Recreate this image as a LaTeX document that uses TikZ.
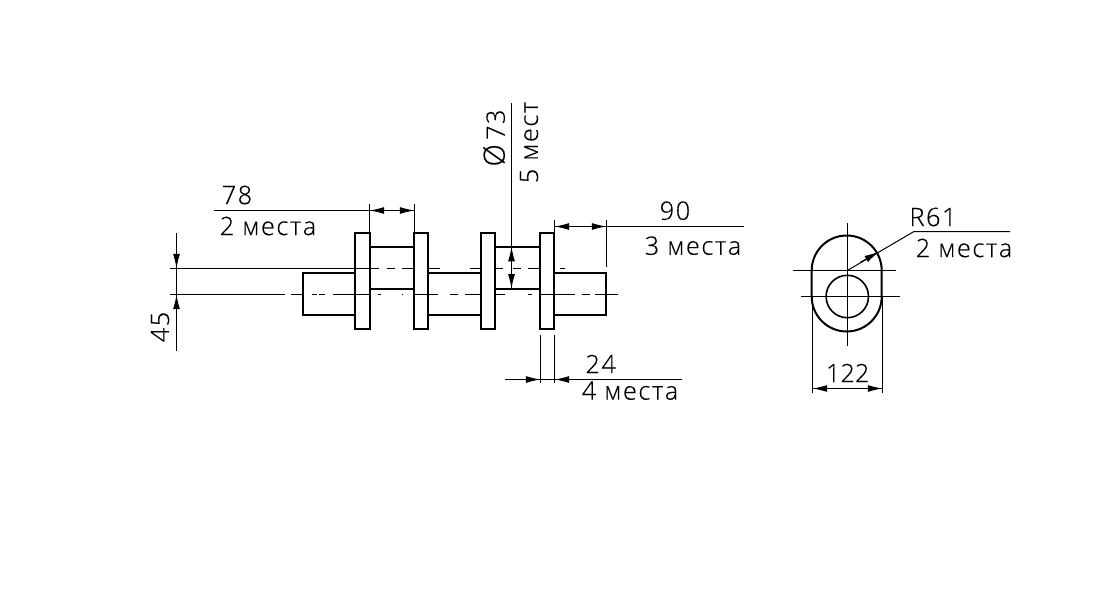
\documentclass[tikz,border=0pt]{standalone}
\usepackage{fontspec}
\setmainfont{Open Sans Light}[LetterSpace=6,FakeBold=0.3]
\usetikzlibrary{arrows.meta}
\tikzset{
  x=0.75pt,y=-0.75pt,
  body/.style={line width=1.5pt,draw=black},
  thinline/.style={line width=0.75pt,draw=black},
  axis/.style={line width=0.75pt,draw=black},
  dimtip/.style={line width=0.75pt,draw=black,-{Latex[length=11pt,width=5.2pt]}},
  dimtext/.style={font=\fontsize{19}{19}\selectfont,inner sep=0pt,text=black},
}
\begin{document}
\begin{tikzpicture}
\useasboundingbox (0,0) rectangle (1093,603);
\fill[white] (0,0) rectangle (1093,603);
% axes
\draw[axis] (170,268.5) -- (369,268.5);
\foreach \a/\b in {370/379,387/395,402/414,428/440,470/481,495/503,513/521,528/540,560/565}
  \draw[axis] (\a,268.5) -- (\b,268.5);
\draw[axis] (170,294.5) -- (285,294.5);
\foreach \a/\b in {291/302,312/317,319/325,333/369,378/381,402/403,414/428,428/438,450/458,465/481,495/505,528/532,540/575,582/590,595/618}
  \draw[axis] (\a,294.5) -- (\b,294.5);
% shaft
\foreach \xa/\xb in {355/369.5,414/428,481/495.3,540/554.3}
  \draw[body] (\xa,232.7) rectangle (\xb,329);
\draw[body] (355,272.7) -- (302.7,272.7) -- (302.7,315) -- (355,315);
\draw[body] (554.3,272.7) -- (606,272.7) -- (606,315) -- (554.3,315);
\draw[body] (369.5,246.7) -- (414,246.7) (369.5,288.7) -- (414,288.7);
\draw[body] (495.3,246.7) -- (540,246.7) (495.3,288.7) -- (540,288.7);
\draw[body] (428,272.7) -- (481,272.7) (428,315) -- (481,315);
% end view
\coordinate (cu) at (847.3,270.5);
\coordinate (cl) at (847.3,296.5);
\draw[body] (811.7,270.5) arc[start angle=180,end angle=360,radius=35] -- (881.7,296.5) arc[start angle=0,end angle=180,radius=35] -- cycle;
\draw[body,line width=1.2pt] (cl) circle[radius=21.2];
\draw[axis] (847.5,223) -- (847.5,345.7);
\draw[axis] (792.7,270.5) -- (896,270.5);
\draw[axis] (801,296.5) -- (900,296.5);
% R61
\coordinate (rk) at (914,231.5);
\coordinate (rtip) at (879,251.7);
\draw[thinline] (1010,231.5) -- (rk) -- (cu);
\draw[dimtip] (860,262.5) -- (rtip);
\node[dimtext] (r61) at (933,217) {R61};
\node[dimtext] (r61b) at (964,248) {2 места};
% 122
\draw[thinline] (812.5,296) -- (812.5,392.7) (882.5,296) -- (882.5,392.7);
\draw[thinline] (812.5,388.5) -- (882.5,388.5);
\draw[dimtip] (832,388.5) -- (812.5,388.5);
\draw[dimtip] (862,388.5) -- (882.5,388.5);
\node[dimtext] (t122) at (847.7,373) {\addfontfeature{LetterSpace=0}122};
% 45
\draw[thinline] (176.5,233) -- (176.5,350.7);
\draw[dimtip] (176.5,248) -- (176.5,268.5);
\draw[dimtip] (176.5,314) -- (176.5,294.5);
\node[dimtext,rotate=90] (t45) at (160,327) {45};
% 78
\draw[thinline] (214,210.5) -- (414,210.5);
\draw[thinline] (369.5,204) -- (369.5,232.7) (414.5,204) -- (414.5,232.7);
\draw[dimtip] (389,210.5) -- (369.5,210.5);
\draw[dimtip] (394,210.5) -- (414.5,210.5);
\node[dimtext] (t78) at (237,195) {78};
\node[dimtext] (t78b) at (268,226) {2 места};
% 73
\draw[thinline] (511.5,103) -- (511.5,289);
\draw[dimtip] (511.5,267) -- (511.5,246.7);
\draw[dimtip] (511.5,269) -- (511.5,288.7);
\node[dimtext,rotate=90] (t73) at (494,138) {{\fontsize{22}{22}\selectfont Ø}\,73};
\node[dimtext,rotate=90] (t73b) at (529,142.5) {5 мест};
% 90
\draw[thinline] (554.5,220) -- (554.5,232.7) (606.5,220) -- (606.5,267);
\draw[thinline] (554.5,226.5) -- (744,226.5);
\draw[dimtip] (574,226.5) -- (554.5,226.5);
\draw[dimtip] (586,226.5) -- (606.5,226.5);
\node[dimtext] (t90) at (675,210.7) {90};
\node[dimtext] (t90b) at (693,245.7) {3 места};
% 24
\draw[thinline] (540.5,335) -- (540.5,383) (554.5,335) -- (554.5,383);
\draw[thinline] (505,379.5) -- (681.7,379.5);
\draw[dimtip] (522,379.5) -- (540.5,379.5);
\draw[dimtip] (572,379.5) -- (554.5,379.5);
\node[dimtext] (t24) at (600.7,364) {24};
\node[dimtext] (t24b) at (630,390.7) {4 места};
\end{tikzpicture}
\end{document}
